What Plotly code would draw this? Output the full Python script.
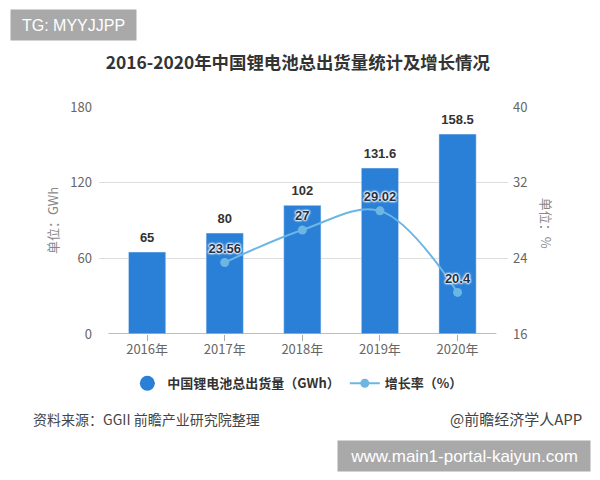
import plotly.graph_objects as go

# chart data
years = ["2016年", "2017年", "2018年", "2019年", "2020年"]
shipments = [65, 80, 102, 131.6, 158.5]
growth_years = ["2017年", "2018年", "2019年", "2020年"]
growth = [23.56, 27, 29.02, 20.4]
left_ticks = [0, 60, 120, 180]
right_ticks = [16, 24, 32, 40]

font_cn = "Noto Sans CJK SC"
bar_blue = "#2a7fd6"
line_blue = "#6cb6e4"
halo = "0 0 2px #fff, 0 0 2px #fff, 0 0 2px #fff, 0 0 3px #fff, 0 0 3px #fff"

fig = go.Figure()

fig.add_trace(go.Bar(x=years, y=shipments, width=0.48, marker_color=bar_blue, showlegend=False))

# bar value labels, hidden marker keeps them a bit above the bar
fig.add_trace(go.Scatter(
    x=years, y=shipments, mode="markers+text", showlegend=False, cliponaxis=False,
    marker=dict(size=10, opacity=0),
    text=[str(v) for v in shipments], textposition="top center",
    textfont=dict(size=13, color="#333333", family="Liberation Sans", weight="bold"),
))

# round legend marker for the bars
fig.add_trace(go.Scatter(
    x=[None], y=[None], mode="markers", name="中国锂电池总出货量（GWh）",
    marker=dict(color=bar_blue, size=15),
))

fig.add_trace(go.Scatter(
    x=growth_years, y=growth, yaxis="y2", mode="lines+markers+text", name="增长率（%）",
    line=dict(color=line_blue, width=2, shape="spline"),
    marker=dict(color=line_blue, size=9),
    text=[str(v) for v in growth], textposition="top center",
    textfont=dict(size=13, color="#22324a", family="Liberation Sans", weight="bold", shadow=halo),
))

fig.update_layout(
    width=600, height=480, plot_bgcolor="white", paper_bgcolor="white",
    margin=dict(l=91, r=100, t=99, b=154),
    font=dict(family=font_cn, color="#666666", size=13),
    title=dict(text="<b>2016-2020年中国锂电池总出货量统计及增长情况</b>", x=0.483, xanchor="center",
               y=0.885, yanchor="middle", font=dict(size=17.4, color="#333333")),
    xaxis=dict(range=[-0.62, 4.65], ticks="outside", ticklen=6, tickcolor="#aaaaaa", showgrid=False,
               ticklabelstandoff=-3, tickfont=dict(size=13, color="#666666")),
    yaxis=dict(range=[0, 180], tickvals=left_ticks, gridcolor="#dddddd", zeroline=False, ticks="",
               ticklabelstandoff=6,
               title=dict(text="单位：GWh", standoff=8, font=dict(size=13, color="#888888")),
               tickfont=dict(size=13, color="#666666")),
    yaxis2=dict(range=[16, 40], tickvals=right_ticks, overlaying="y", side="right", showgrid=False,
                zeroline=False, ticklabelstandoff=4, tickfont=dict(size=13, color="#666666")),
    legend=dict(orientation="h", x=0.485, xanchor="center", y=-0.217, yanchor="middle",
                font=dict(size=13, color="#333333", weight="bold"), itemwidth=30),
    shapes=[
        # baseline narrower than the gridlines
        dict(type="line", xref="x", yref="y", x0=-0.5, x1=4.5, y0=0, y1=0,
             line=dict(color="#aaaaaa", width=1.5)),
    ],
    annotations=[
        dict(text="单位：%", xref="paper", yref="paper", x=1.093, xanchor="center",
             y=0.49, yanchor="middle", textangle=90,
             showarrow=False, font=dict(size=13, color="#888888")),
        dict(text="资料来源：GGII 前瞻产业研究院整理", xref="paper", yref="paper", x=-0.166, xanchor="left",
             y=-0.374, yanchor="middle", showarrow=False, font=dict(size=14, color="#444444")),
        dict(text="@前瞻经济学人APP", xref="paper", yref="paper", x=1.186, xanchor="right",
             y=-0.374, yanchor="middle", showarrow=False, font=dict(size=15, color="#444444")),
        dict(text="TG: MYYJJPP", xref="paper", yref="paper", x=-0.218, xanchor="left",
             y=1.36, yanchor="middle", width=113, height=18,
             showarrow=False, bgcolor="#a9a9a9", borderpad=6,
             font=dict(size=16, color="white", family="Liberation Sans")),
        dict(text="www.main1-portal-kaiyun.com", xref="paper", yref="paper", x=1.203, xanchor="right",
             y=-0.537, yanchor="middle", width=240, height=18,
             showarrow=False, bgcolor="#a9a9a9", borderpad=6,
             font=dict(size=17, color="white", family="Liberation Sans")),
    ],
)

fig.write_html("out.html")
